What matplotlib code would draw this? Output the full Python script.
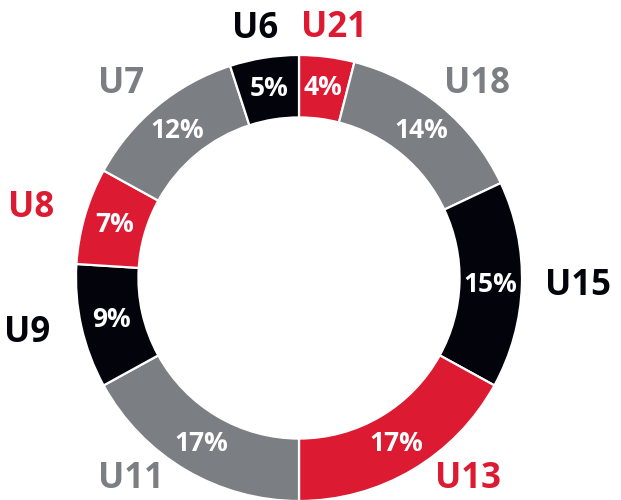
import numpy as np
import matplotlib
matplotlib.use("Agg")
import matplotlib.pyplot as plt

plt.rcParams['font.family'] = ['Open Sans', 'DejaVu Sans']

# age groups, clockwise from 12 o'clock
groups = ["U21", "U18", "U15", "U13", "U11", "U9", "U8", "U7", "U6"]
shares = [4, 14, 15, 17, 17, 9, 7, 12, 5]

red = "#DC1A32"
grey = "#7B7E83"
black = "#03030B"
colors = [red, grey, black, red, grey, black, red, grey, black]

fig = plt.figure(figsize=(6.21, 5.0), dpi=100)
ax = fig.add_axes([0, 0, 1, 1])

ring = 0.28
wedges, _ = ax.pie(shares, colors=colors, startangle=90, counterclock=False,
                   radius=1.0, wedgeprops=dict(width=ring, edgecolor="white", linewidth=1.6))

# pixel scale: ring radius ~223 px, centre at (299, 278) from top-left
ax.set_xlim(-299 / 223, (621 - 299) / 223)
ax.set_ylim(-(500 - 278) / 223, 278 / 223)
ax.set_aspect("equal")
ax.axis("off")

bottom_limit = -0.9
cum = np.cumsum([0] + shares)
for i, (g, s) in enumerate(zip(groups, shares)):
    mid = (cum[i] + s / 2) / 100 * 2 * np.pi  # clockwise from top
    # percentage inside the ring
    r_in = 1 - ring / 2
    ax.text(r_in * np.sin(mid), r_in * np.cos(mid), f"{s}%", color="white",
            fontsize=19, fontweight="bold", ha="center", va="center")
    # group name outside, on a flattened ellipse
    ex, ey = 1.25, 1.13
    th = mid
    if ey * np.cos(th) < bottom_limit:
        c = bottom_limit / ey
        th = np.arccos(c) if np.sin(mid) > 0 else 2 * np.pi - np.arccos(c)
    ax.text(ex * np.sin(th), ey * np.cos(th), g, color=colors[i],
            fontsize=25, fontweight="bold", ha="center", va="center")

fig.savefig("out.png", dpi=100)
